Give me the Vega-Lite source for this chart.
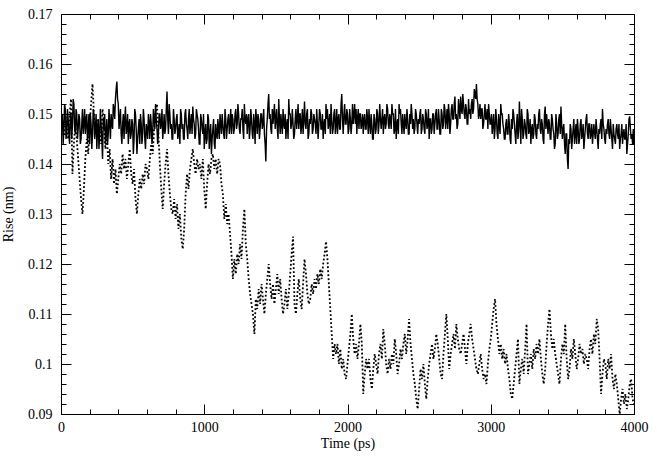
{
  "$schema": "https://vega.github.io/schema/vega-lite/v6.json",
  "autosize": {"type": "none"},
  "width": 573,
  "height": 400,
  "padding": {"left": 61, "top": 14, "right": 23, "bottom": 46},
  "background": "white",
  "config": {
    "view": {"stroke": null},
    "axis": {
      "grid": false,
      "domainColor": "black",
      "domainWidth": 1,
      "tickColor": "black",
      "tickWidth": 1,
      "labelFont": "Liberation Serif",
      "labelFontSize": 14,
      "labelColor": "black",
      "titleFont": "Liberation Serif",
      "titleFontSize": 14,
      "titleFontWeight": "normal",
      "titleColor": "black"
    }
  },
  "data": {"values": [
{"t":0,"a":0.145,"b":0.147},{"t":10,"a":0.150,"b":0.149},{"t":20,"a":0.147,"b":0.146},{"t":30,"a":0.151,"b":0.150},{"t":40,"a":0.146,"b":0.148},{"t":50,"a":0.149,"b":0.145},{"t":60,"a":0.144,"b":0.150},{"t":70,"a":0.150,"b":0.153},{"t":80,"a":0.148,"b":0.138},{"t":90,"a":0.152,"b":0.144},
{"t":100,"a":0.146,"b":0.148},{"t":110,"a":0.150,"b":0.145},{"t":120,"a":0.147,"b":0.141},{"t":130,"a":0.149,"b":0.137},{"t":140,"a":0.145,"b":0.133},{"t":150,"a":0.151,"b":0.130},{"t":160,"a":0.148,"b":0.135},{"t":170,"a":0.146,"b":0.141},{"t":180,"a":0.150,"b":0.145},{"t":190,"a":0.147,"b":0.142},
{"t":200,"a":0.144,"b":0.148},{"t":210,"a":0.148,"b":0.152},{"t":220,"a":0.146,"b":0.156},{"t":230,"a":0.150,"b":0.150},{"t":240,"a":0.147,"b":0.146},{"t":250,"a":0.143,"b":0.149},{"t":260,"a":0.149,"b":0.145},{"t":270,"a":0.146,"b":0.147},{"t":280,"a":0.148,"b":0.144},{"t":290,"a":0.141,"b":0.151},
{"t":300,"a":0.147,"b":0.148},{"t":310,"a":0.144,"b":0.143},{"t":320,"a":0.149,"b":0.146},{"t":330,"a":0.146,"b":0.140},{"t":340,"a":0.148,"b":0.143},{"t":350,"a":0.150,"b":0.137},{"t":360,"a":0.147,"b":0.141},{"t":370,"a":0.151,"b":0.136},{"t":380,"a":0.153,"b":0.139},{"t":390,"a":0.1565,"b":0.134},
{"t":400,"a":0.152,"b":0.137},{"t":410,"a":0.149,"b":0.140},{"t":420,"a":0.146,"b":0.138},{"t":430,"a":0.148,"b":0.142},{"t":440,"a":0.145,"b":0.139},{"t":450,"a":0.1515,"b":0.141},{"t":460,"a":0.147,"b":0.137},{"t":470,"a":0.144,"b":0.140},{"t":480,"a":0.149,"b":0.143},{"t":490,"a":0.146,"b":0.138},
{"t":500,"a":0.148,"b":0.136},{"t":510,"a":0.145,"b":0.139},{"t":520,"a":0.150,"b":0.133},{"t":530,"a":0.142,"b":0.130},{"t":540,"a":0.147,"b":0.134},{"t":550,"a":0.144,"b":0.137},{"t":560,"a":0.148,"b":0.135},{"t":570,"a":0.146,"b":0.138},{"t":580,"a":0.149,"b":0.136},{"t":590,"a":0.143,"b":0.140},
{"t":600,"a":0.147,"b":0.139},{"t":610,"a":0.150,"b":0.137},{"t":620,"a":0.145,"b":0.141},{"t":630,"a":0.148,"b":0.144},{"t":640,"a":0.146,"b":0.142},{"t":650,"a":0.149,"b":0.147},{"t":660,"a":0.152,"b":0.150},{"t":670,"a":0.147,"b":0.152},{"t":680,"a":0.146,"b":0.146},{"t":690,"a":0.150,"b":0.140},
{"t":700,"a":0.148,"b":0.135},{"t":710,"a":0.145,"b":0.131},{"t":720,"a":0.150,"b":0.136},{"t":730,"a":0.147,"b":0.140},{"t":740,"a":0.1545,"b":0.143},{"t":750,"a":0.146,"b":0.138},{"t":760,"a":0.150,"b":0.134},{"t":770,"a":0.148,"b":0.131},{"t":780,"a":0.145,"b":0.130},{"t":790,"a":0.149,"b":0.133},
{"t":800,"a":0.147,"b":0.129},{"t":810,"a":0.150,"b":0.132},{"t":820,"a":0.146,"b":0.127},{"t":830,"a":0.144,"b":0.130},{"t":840,"a":0.150,"b":0.125},{"t":850,"a":0.148,"b":0.123},{"t":860,"a":0.145,"b":0.127},{"t":870,"a":0.151,"b":0.134},{"t":880,"a":0.147,"b":0.138},{"t":890,"a":0.149,"b":0.135},
{"t":900,"a":0.146,"b":0.139},{"t":910,"a":0.150,"b":0.141},{"t":920,"a":0.1515,"b":0.143},{"t":930,"a":0.148,"b":0.140},{"t":940,"a":0.146,"b":0.138},{"t":950,"a":0.150,"b":0.141},{"t":960,"a":0.147,"b":0.139},{"t":970,"a":0.144,"b":0.140},{"t":980,"a":0.149,"b":0.137},{"t":990,"a":0.146,"b":0.141},
{"t":1000,"a":0.143,"b":0.135},{"t":1010,"a":0.148,"b":0.131},{"t":1020,"a":0.145,"b":0.136},{"t":1030,"a":0.149,"b":0.140},{"t":1040,"a":0.146,"b":0.138},{"t":1050,"a":0.142,"b":0.141},{"t":1060,"a":0.147,"b":0.142},{"t":1070,"a":0.144,"b":0.139},{"t":1080,"a":0.148,"b":0.141},{"t":1090,"a":0.145,"b":0.138},
{"t":1100,"a":0.147,"b":0.141},{"t":1110,"a":0.150,"b":0.140},{"t":1120,"a":0.146,"b":0.136},{"t":1130,"a":0.148,"b":0.134},{"t":1140,"a":0.145,"b":0.129},{"t":1150,"a":0.149,"b":0.132},{"t":1160,"a":0.147,"b":0.128},{"t":1170,"a":0.150,"b":0.130},{"t":1180,"a":0.148,"b":0.126},{"t":1190,"a":0.146,"b":0.122},
{"t":1200,"a":0.149,"b":0.117},{"t":1210,"a":0.147,"b":0.121},{"t":1220,"a":0.151,"b":0.118},{"t":1230,"a":0.148,"b":0.122},{"t":1240,"a":0.150,"b":0.120},{"t":1250,"a":0.146,"b":0.124},{"t":1260,"a":0.149,"b":0.121},{"t":1270,"a":0.147,"b":0.127},{"t":1280,"a":0.152,"b":0.131},{"t":1290,"a":0.148,"b":0.124},
{"t":1300,"a":0.146,"b":0.121},{"t":1310,"a":0.150,"b":0.117},{"t":1320,"a":0.147,"b":0.114},{"t":1330,"a":0.149,"b":0.112},{"t":1340,"a":0.145,"b":0.110},{"t":1350,"a":0.148,"b":0.106},{"t":1360,"a":0.151,"b":0.113},{"t":1370,"a":0.146,"b":0.111},{"t":1380,"a":0.149,"b":0.115},{"t":1390,"a":0.147,"b":0.112},
{"t":1400,"a":0.150,"b":0.116},{"t":1410,"a":0.148,"b":0.113},{"t":1420,"a":0.146,"b":0.110},{"t":1430,"a":0.1405,"b":0.114},{"t":1440,"a":0.149,"b":0.117},{"t":1450,"a":0.154,"b":0.120},{"t":1460,"a":0.150,"b":0.116},{"t":1470,"a":0.146,"b":0.113},{"t":1480,"a":0.148,"b":0.116},{"t":1490,"a":0.152,"b":0.112},
{"t":1500,"a":0.149,"b":0.115},{"t":1510,"a":0.147,"b":0.118},{"t":1520,"a":0.153,"b":0.114},{"t":1530,"a":0.146,"b":0.117},{"t":1540,"a":0.148,"b":0.113},{"t":1550,"a":0.151,"b":0.110},{"t":1560,"a":0.147,"b":0.112},{"t":1570,"a":0.145,"b":0.115},{"t":1580,"a":0.149,"b":0.111},{"t":1590,"a":0.153,"b":0.114},
{"t":1600,"a":0.150,"b":0.118},{"t":1610,"a":0.148,"b":0.122},{"t":1620,"a":0.148,"b":0.1255},{"t":1630,"a":0.146,"b":0.112},{"t":1640,"a":0.151,"b":0.110},{"t":1650,"a":0.149,"b":0.114},{"t":1660,"a":0.147,"b":0.117},{"t":1670,"a":0.150,"b":0.113},{"t":1680,"a":0.148,"b":0.111},{"t":1690,"a":0.146,"b":0.116},
{"t":1700,"a":0.1525,"b":0.121},{"t":1710,"a":0.147,"b":0.118},{"t":1720,"a":0.151,"b":0.114},{"t":1730,"a":0.146,"b":0.112},{"t":1740,"a":0.148,"b":0.113},{"t":1750,"a":0.150,"b":0.116},{"t":1760,"a":0.147,"b":0.114},{"t":1770,"a":0.149,"b":0.117},{"t":1780,"a":0.146,"b":0.115},{"t":1790,"a":0.148,"b":0.118},
{"t":1800,"a":0.148,"b":0.116},{"t":1810,"a":0.150,"b":0.119},{"t":1820,"a":0.147,"b":0.117},{"t":1830,"a":0.145,"b":0.120},{"t":1840,"a":0.149,"b":0.122},{"t":1850,"a":0.152,"b":0.1245},{"t":1860,"a":0.151,"b":0.121},{"t":1870,"a":0.148,"b":0.116},{"t":1880,"a":0.146,"b":0.111},{"t":1890,"a":0.149,"b":0.106},
{"t":1900,"a":0.147,"b":0.101},{"t":1910,"a":0.151,"b":0.104},{"t":1920,"a":0.148,"b":0.102},{"t":1930,"a":0.146,"b":0.104},{"t":1940,"a":0.150,"b":0.100},{"t":1950,"a":0.147,"b":0.103},{"t":1960,"a":0.154,"b":0.099},{"t":1970,"a":0.146,"b":0.101},{"t":1980,"a":0.152,"b":0.098},{"t":1990,"a":0.148,"b":0.097},
{"t":2000,"a":0.150,"b":0.100},{"t":2010,"a":0.147,"b":0.103},{"t":2020,"a":0.149,"b":0.106},{"t":2030,"a":0.148,"b":0.110},{"t":2040,"a":0.148,"b":0.105},{"t":2050,"a":0.152,"b":0.102},{"t":2060,"a":0.151,"b":0.104},{"t":2070,"a":0.149,"b":0.101},{"t":2080,"a":0.147,"b":0.104},{"t":2090,"a":0.150,"b":0.108},
{"t":2100,"a":0.148,"b":0.104},{"t":2110,"a":0.146,"b":0.094},{"t":2120,"a":0.150,"b":0.098},{"t":2130,"a":0.147,"b":0.101},{"t":2140,"a":0.149,"b":0.099},{"t":2150,"a":0.151,"b":0.101},{"t":2160,"a":0.146,"b":0.097},{"t":2170,"a":0.148,"b":0.095},{"t":2180,"a":0.145,"b":0.099},{"t":2190,"a":0.149,"b":0.102},
{"t":2200,"a":0.147,"b":0.100},{"t":2210,"a":0.150,"b":0.098},{"t":2220,"a":0.148,"b":0.102},{"t":2230,"a":0.149,"b":0.104},{"t":2240,"a":0.149,"b":0.101},{"t":2250,"a":0.146,"b":0.107},{"t":2260,"a":0.150,"b":0.104},{"t":2270,"a":0.148,"b":0.100},{"t":2280,"a":0.151,"b":0.098},{"t":2290,"a":0.147,"b":0.101},
{"t":2300,"a":0.149,"b":0.099},{"t":2310,"a":0.152,"b":0.102},{"t":2320,"a":0.150,"b":0.100},{"t":2330,"a":0.147,"b":0.105},{"t":2340,"a":0.145,"b":0.102},{"t":2350,"a":0.149,"b":0.098},{"t":2360,"a":0.152,"b":0.100},{"t":2370,"a":0.151,"b":0.103},{"t":2380,"a":0.146,"b":0.101},{"t":2390,"a":0.148,"b":0.104},
{"t":2400,"a":0.150,"b":0.106},{"t":2410,"a":0.147,"b":0.102},{"t":2420,"a":0.149,"b":0.105},{"t":2430,"a":0.146,"b":0.109},{"t":2440,"a":0.148,"b":0.104},{"t":2450,"a":0.150,"b":0.101},{"t":2460,"a":0.149,"b":0.098},{"t":2470,"a":0.147,"b":0.096},{"t":2480,"a":0.150,"b":0.093},{"t":2490,"a":0.146,"b":0.091},
{"t":2500,"a":0.148,"b":0.095},{"t":2510,"a":0.151,"b":0.099},{"t":2520,"a":0.147,"b":0.097},{"t":2530,"a":0.149,"b":0.100},{"t":2540,"a":0.146,"b":0.096},{"t":2550,"a":0.150,"b":0.093},{"t":2560,"a":0.148,"b":0.097},{"t":2570,"a":0.145,"b":0.100},{"t":2580,"a":0.149,"b":0.102},{"t":2590,"a":0.147,"b":0.104},
{"t":2600,"a":0.150,"b":0.101},{"t":2610,"a":0.148,"b":0.103},{"t":2620,"a":0.151,"b":0.106},{"t":2630,"a":0.147,"b":0.104},{"t":2640,"a":0.149,"b":0.101},{"t":2650,"a":0.146,"b":0.098},{"t":2660,"a":0.150,"b":0.097},{"t":2670,"a":0.148,"b":0.102},{"t":2680,"a":0.151,"b":0.106},{"t":2690,"a":0.149,"b":0.110},
{"t":2700,"a":0.147,"b":0.105},{"t":2710,"a":0.150,"b":0.099},{"t":2720,"a":0.148,"b":0.102},{"t":2730,"a":0.152,"b":0.104},{"t":2740,"a":0.149,"b":0.106},{"t":2750,"a":0.1535,"b":0.103},{"t":2760,"a":0.150,"b":0.108},{"t":2770,"a":0.148,"b":0.105},{"t":2780,"a":0.151,"b":0.103},{"t":2790,"a":0.1535,"b":0.102},
{"t":2800,"a":0.150,"b":0.104},{"t":2810,"a":0.152,"b":0.106},{"t":2820,"a":0.149,"b":0.103},{"t":2830,"a":0.151,"b":0.100},{"t":2840,"a":0.148,"b":0.104},{"t":2850,"a":0.150,"b":0.106},{"t":2860,"a":0.149,"b":0.108},{"t":2870,"a":0.153,"b":0.105},{"t":2880,"a":0.151,"b":0.103},{"t":2890,"a":0.154,"b":0.101},
{"t":2900,"a":0.156,"b":0.099},{"t":2910,"a":0.152,"b":0.098},{"t":2920,"a":0.150,"b":0.100},{"t":2930,"a":0.149,"b":0.102},{"t":2940,"a":0.151,"b":0.099},{"t":2950,"a":0.148,"b":0.097},{"t":2960,"a":0.152,"b":0.098},{"t":2970,"a":0.149,"b":0.096},{"t":2980,"a":0.147,"b":0.100},{"t":2990,"a":0.150,"b":0.103},
{"t":3000,"a":0.148,"b":0.105},{"t":3010,"a":0.146,"b":0.108},{"t":3020,"a":0.150,"b":0.111},{"t":3030,"a":0.147,"b":0.113},{"t":3040,"a":0.149,"b":0.108},{"t":3050,"a":0.145,"b":0.105},{"t":3060,"a":0.148,"b":0.102},{"t":3070,"a":0.152,"b":0.104},{"t":3080,"a":0.150,"b":0.101},{"t":3090,"a":0.147,"b":0.103},
{"t":3100,"a":0.145,"b":0.100},{"t":3110,"a":0.149,"b":0.102},{"t":3120,"a":0.146,"b":0.099},{"t":3130,"a":0.148,"b":0.097},{"t":3140,"a":0.144,"b":0.094},{"t":3150,"a":0.147,"b":0.093},{"t":3160,"a":0.150,"b":0.096},{"t":3170,"a":0.146,"b":0.099},{"t":3180,"a":0.148,"b":0.102},{"t":3190,"a":0.145,"b":0.105},
{"t":3200,"a":0.1525,"b":0.096},{"t":3210,"a":0.144,"b":0.099},{"t":3220,"a":0.149,"b":0.101},{"t":3230,"a":0.146,"b":0.098},{"t":3240,"a":0.148,"b":0.103},{"t":3250,"a":0.145,"b":0.108},{"t":3260,"a":0.150,"b":0.098},{"t":3270,"a":0.147,"b":0.100},{"t":3280,"a":0.144,"b":0.102},{"t":3290,"a":0.148,"b":0.099},
{"t":3300,"a":0.146,"b":0.103},{"t":3310,"a":0.149,"b":0.101},{"t":3320,"a":0.145,"b":0.104},{"t":3330,"a":0.147,"b":0.102},{"t":3340,"a":0.151,"b":0.105},{"t":3350,"a":0.146,"b":0.101},{"t":3360,"a":0.148,"b":0.098},{"t":3370,"a":0.144,"b":0.096},{"t":3380,"a":0.1515,"b":0.099},{"t":3390,"a":0.150,"b":0.104},
{"t":3400,"a":0.146,"b":0.108},{"t":3410,"a":0.148,"b":0.111},{"t":3420,"a":0.145,"b":0.106},{"t":3430,"a":0.149,"b":0.103},{"t":3440,"a":0.146,"b":0.105},{"t":3450,"a":0.144,"b":0.102},{"t":3460,"a":0.148,"b":0.100},{"t":3470,"a":0.146,"b":0.098},{"t":3480,"a":0.150,"b":0.096},{"t":3490,"a":0.1515,"b":0.101},
{"t":3500,"a":0.145,"b":0.104},{"t":3510,"a":0.148,"b":0.102},{"t":3520,"a":0.142,"b":0.108},{"t":3530,"a":0.146,"b":0.101},{"t":3540,"a":0.139,"b":0.097},{"t":3550,"a":0.144,"b":0.099},{"t":3560,"a":0.147,"b":0.103},{"t":3570,"a":0.145,"b":0.101},{"t":3580,"a":0.149,"b":0.105},{"t":3590,"a":0.146,"b":0.102},
{"t":3600,"a":0.144,"b":0.099},{"t":3610,"a":0.147,"b":0.101},{"t":3620,"a":0.145,"b":0.104},{"t":3630,"a":0.149,"b":0.102},{"t":3640,"a":0.146,"b":0.103},{"t":3650,"a":0.143,"b":0.100},{"t":3660,"a":0.147,"b":0.102},{"t":3670,"a":0.150,"b":0.101},{"t":3680,"a":0.145,"b":0.099},{"t":3690,"a":0.148,"b":0.103},
{"t":3700,"a":0.146,"b":0.105},{"t":3710,"a":0.144,"b":0.102},{"t":3720,"a":0.148,"b":0.106},{"t":3730,"a":0.145,"b":0.104},{"t":3740,"a":0.147,"b":0.109},{"t":3750,"a":0.143,"b":0.107},{"t":3760,"a":0.146,"b":0.101},{"t":3770,"a":0.149,"b":0.094},{"t":3780,"a":0.151,"b":0.098},{"t":3790,"a":0.147,"b":0.101},
{"t":3800,"a":0.144,"b":0.100},{"t":3810,"a":0.146,"b":0.097},{"t":3820,"a":0.149,"b":0.101},{"t":3830,"a":0.145,"b":0.099},{"t":3840,"a":0.147,"b":0.102},{"t":3850,"a":0.143,"b":0.097},{"t":3860,"a":0.146,"b":0.095},{"t":3870,"a":0.144,"b":0.098},{"t":3880,"a":0.148,"b":0.096},{"t":3890,"a":0.145,"b":0.093},
{"t":3900,"a":0.143,"b":0.090},{"t":3910,"a":0.146,"b":0.093},{"t":3920,"a":0.144,"b":0.095},{"t":3930,"a":0.147,"b":0.092},{"t":3940,"a":0.145,"b":0.094},{"t":3950,"a":0.142,"b":0.091},{"t":3960,"a":0.146,"b":0.093},{"t":3970,"a":0.1495,"b":0.096},{"t":3980,"a":0.145,"b":0.097},{"t":3990,"a":0.144,"b":0.093},
{"t":4000,"a":0.144,"b":0.092},
{"t":5,"a":0.149},{"t":15,"a":0.144},{"t":25,"a":0.152},{"t":35,"a":0.145},{"t":45,"a":0.151},{"t":55,"a":0.146},{"t":65,"a":0.150},{"t":75,"a":0.145},{"t":85,"a":0.153},{"t":95,"a":0.147},
{"t":105,"a":0.151},{"t":115,"a":0.145},{"t":125,"a":0.150},{"t":135,"a":0.144},{"t":145,"a":0.148},{"t":155,"a":0.146},{"t":165,"a":0.151},{"t":175,"a":0.149},{"t":185,"a":0.144},{"t":195,"a":0.150},
{"t":205,"a":0.150},{"t":215,"a":0.143},{"t":225,"a":0.151},{"t":235,"a":0.145},{"t":245,"a":0.150},{"t":255,"a":0.147},{"t":265,"a":0.143},{"t":275,"a":0.151},{"t":285,"a":0.145},{"t":295,"a":0.149},
{"t":305,"a":0.150},{"t":315,"a":0.146},{"t":325,"a":0.144},{"t":335,"a":0.151},{"t":345,"a":0.145},{"t":355,"a":0.148},{"t":365,"a":0.152},{"t":375,"a":0.149},{"t":385,"a":0.155},{"t":395,"a":0.153},
{"t":405,"a":0.147},{"t":415,"a":0.151},{"t":425,"a":0.144},{"t":435,"a":0.150},{"t":445,"a":0.149},{"t":455,"a":0.146},{"t":465,"a":0.150},{"t":475,"a":0.148},{"t":485,"a":0.145},{"t":495,"a":0.149},
{"t":505,"a":0.142},{"t":515,"a":0.151},{"t":525,"a":0.147},{"t":535,"a":0.145},{"t":545,"a":0.149},{"t":555,"a":0.150},{"t":565,"a":0.144},{"t":575,"a":0.151},{"t":585,"a":0.145},{"t":595,"a":0.148},
{"t":605,"a":0.145},{"t":615,"a":0.148},{"t":625,"a":0.150},{"t":635,"a":0.144},{"t":645,"a":0.151},{"t":655,"a":0.147},{"t":665,"a":0.149},{"t":675,"a":0.144},{"t":685,"a":0.150},{"t":695,"a":0.147},
{"t":705,"a":0.151},{"t":715,"a":0.147},{"t":725,"a":0.146},{"t":735,"a":0.151},{"t":745,"a":0.149},{"t":755,"a":0.152},{"t":765,"a":0.147},{"t":775,"a":0.145},{"t":785,"a":0.151},{"t":795,"a":0.146},
{"t":805,"a":0.149},{"t":815,"a":0.145},{"t":825,"a":0.148},{"t":835,"a":0.151},{"t":845,"a":0.147},{"t":855,"a":0.145},{"t":865,"a":0.150},{"t":875,"a":0.148},{"t":885,"a":0.145},{"t":895,"a":0.151},
{"t":905,"a":0.148},{"t":915,"a":0.146},{"t":925,"a":0.149},{"t":935,"a":0.145},{"t":945,"a":0.151},{"t":955,"a":0.149},{"t":965,"a":0.144},{"t":975,"a":0.150},{"t":985,"a":0.147},{"t":995,"a":0.150},
{"t":1005,"a":0.146},{"t":1015,"a":0.144},{"t":1025,"a":0.150},{"t":1035,"a":0.143},{"t":1045,"a":0.148},{"t":1055,"a":0.145},{"t":1065,"a":0.149},{"t":1075,"a":0.143},{"t":1085,"a":0.146},{"t":1095,"a":0.149},
{"t":1105,"a":0.145},{"t":1115,"a":0.148},{"t":1125,"a":0.150},{"t":1135,"a":0.146},{"t":1145,"a":0.151},{"t":1155,"a":0.145},{"t":1165,"a":0.149},{"t":1175,"a":0.146},{"t":1185,"a":0.151},{"t":1195,"a":0.150},
{"t":1205,"a":0.146},{"t":1215,"a":0.150},{"t":1225,"a":0.147},{"t":1235,"a":0.152},{"t":1245,"a":0.147},{"t":1255,"a":0.149},{"t":1265,"a":0.151},{"t":1275,"a":0.145},{"t":1285,"a":0.149},{"t":1295,"a":0.150},
{"t":1305,"a":0.149},{"t":1315,"a":0.145},{"t":1325,"a":0.151},{"t":1335,"a":0.146},{"t":1345,"a":0.150},{"t":1355,"a":0.144},{"t":1365,"a":0.149},{"t":1375,"a":0.150},{"t":1385,"a":0.145},{"t":1395,"a":0.150},
{"t":1405,"a":0.147},{"t":1415,"a":0.151},{"t":1425,"a":0.144},{"t":1435,"a":0.147},{"t":1445,"a":0.152},{"t":1455,"a":0.149},{"t":1465,"a":0.147},{"t":1475,"a":0.151},{"t":1485,"a":0.150},{"t":1495,"a":0.147},
{"t":1505,"a":0.151},{"t":1515,"a":0.145},{"t":1525,"a":0.149},{"t":1535,"a":0.150},{"t":1545,"a":0.146},{"t":1555,"a":0.148},{"t":1565,"a":0.150},{"t":1575,"a":0.148},{"t":1585,"a":0.145},{"t":1595,"a":0.150},
{"t":1605,"a":0.147},{"t":1615,"a":0.151},{"t":1625,"a":0.145},{"t":1635,"a":0.149},{"t":1645,"a":0.147},{"t":1655,"a":0.152},{"t":1665,"a":0.150},{"t":1675,"a":0.146},{"t":1685,"a":0.151},{"t":1695,"a":0.149},
{"t":1705,"a":0.148},{"t":1715,"a":0.150},{"t":1725,"a":0.145},{"t":1735,"a":0.149},{"t":1745,"a":0.151},{"t":1755,"a":0.146},{"t":1765,"a":0.150},{"t":1775,"a":0.148},{"t":1785,"a":0.151},{"t":1795,"a":0.145},
{"t":1805,"a":0.151},{"t":1815,"a":0.147},{"t":1825,"a":0.150},{"t":1835,"a":0.148},{"t":1845,"a":0.146},{"t":1855,"a":0.149},{"t":1865,"a":0.147},{"t":1875,"a":0.150},{"t":1885,"a":0.152},{"t":1895,"a":0.146},
{"t":1905,"a":0.150},{"t":1915,"a":0.146},{"t":1925,"a":0.151},{"t":1935,"a":0.149},{"t":1945,"a":0.147},{"t":1955,"a":0.152},{"t":1965,"a":0.149},{"t":1975,"a":0.150},{"t":1985,"a":0.148},{"t":1995,"a":0.151},
{"t":2005,"a":0.146},{"t":2015,"a":0.151},{"t":2025,"a":0.146},{"t":2035,"a":0.152},{"t":2045,"a":0.150},{"t":2055,"a":0.148},{"t":2065,"a":0.146},{"t":2075,"a":0.151},{"t":2085,"a":0.150},{"t":2095,"a":0.147},
{"t":2105,"a":0.150},{"t":2115,"a":0.149},{"t":2125,"a":0.147},{"t":2135,"a":0.151},{"t":2145,"a":0.146},{"t":2155,"a":0.148},{"t":2165,"a":0.150},{"t":2175,"a":0.145},{"t":2185,"a":0.150},{"t":2195,"a":0.146},
{"t":2205,"a":0.151},{"t":2215,"a":0.146},{"t":2225,"a":0.152},{"t":2235,"a":0.147},{"t":2245,"a":0.151},{"t":2255,"a":0.149},{"t":2265,"a":0.147},{"t":2275,"a":0.152},{"t":2285,"a":0.148},{"t":2295,"a":0.150},
{"t":2305,"a":0.147},{"t":2315,"a":0.150},{"t":2325,"a":0.146},{"t":2335,"a":0.151},{"t":2345,"a":0.148},{"t":2355,"a":0.146},{"t":2365,"a":0.150},{"t":2375,"a":0.148},{"t":2385,"a":0.150},{"t":2395,"a":0.146},
{"t":2405,"a":0.148},{"t":2415,"a":0.151},{"t":2425,"a":0.146},{"t":2435,"a":0.150},{"t":2445,"a":0.152},{"t":2455,"a":0.147},{"t":2465,"a":0.146},{"t":2475,"a":0.151},{"t":2485,"a":0.148},{"t":2495,"a":0.149},
{"t":2505,"a":0.150},{"t":2515,"a":0.146},{"t":2525,"a":0.150},{"t":2535,"a":0.147},{"t":2545,"a":0.151},{"t":2555,"a":0.147},{"t":2565,"a":0.151},{"t":2575,"a":0.149},{"t":2585,"a":0.146},{"t":2595,"a":0.150},
{"t":2605,"a":0.146},{"t":2615,"a":0.150},{"t":2625,"a":0.147},{"t":2635,"a":0.151},{"t":2645,"a":0.146},{"t":2655,"a":0.151},{"t":2665,"a":0.147},{"t":2675,"a":0.152},{"t":2685,"a":0.147},{"t":2695,"a":0.151},
{"t":2705,"a":0.152},{"t":2715,"a":0.146},{"t":2725,"a":0.151},{"t":2735,"a":0.149},{"t":2745,"a":0.152},{"t":2755,"a":0.149},{"t":2765,"a":0.147},{"t":2775,"a":0.153},{"t":2785,"a":0.149},{"t":2795,"a":0.151},
{"t":2805,"a":0.154},{"t":2815,"a":0.150},{"t":2825,"a":0.152},{"t":2835,"a":0.148},{"t":2845,"a":0.153},{"t":2855,"a":0.151},{"t":2865,"a":0.152},{"t":2875,"a":0.150},{"t":2885,"a":0.155},{"t":2895,"a":0.153},
{"t":2905,"a":0.153},{"t":2915,"a":0.149},{"t":2925,"a":0.152},{"t":2935,"a":0.151},{"t":2945,"a":0.147},{"t":2955,"a":0.150},{"t":2965,"a":0.149},{"t":2975,"a":0.151},{"t":2985,"a":0.152},{"t":2995,"a":0.148},
{"t":3005,"a":0.150},{"t":3015,"a":0.148},{"t":3025,"a":0.145},{"t":3035,"a":0.151},{"t":3045,"a":0.146},{"t":3055,"a":0.150},{"t":3065,"a":0.146},{"t":3075,"a":0.150},{"t":3085,"a":0.148},{"t":3095,"a":0.145},
{"t":3105,"a":0.148},{"t":3115,"a":0.146},{"t":3125,"a":0.150},{"t":3135,"a":0.145},{"t":3145,"a":0.149},{"t":3155,"a":0.151},{"t":3165,"a":0.148},{"t":3175,"a":0.144},{"t":3185,"a":0.150},{"t":3195,"a":0.147},
{"t":3205,"a":0.148},{"t":3215,"a":0.151},{"t":3225,"a":0.145},{"t":3235,"a":0.149},{"t":3245,"a":0.146},{"t":3255,"a":0.151},{"t":3265,"a":0.146},{"t":3275,"a":0.149},{"t":3285,"a":0.147},{"t":3295,"a":0.145},
{"t":3305,"a":0.150},{"t":3315,"a":0.146},{"t":3325,"a":0.148},{"t":3335,"a":0.150},{"t":3345,"a":0.147},{"t":3355,"a":0.149},{"t":3365,"a":0.145},{"t":3375,"a":0.150},{"t":3385,"a":0.147},{"t":3395,"a":0.148},
{"t":3405,"a":0.149},{"t":3415,"a":0.145},{"t":3425,"a":0.150},{"t":3435,"a":0.147},{"t":3445,"a":0.143},{"t":3455,"a":0.150},{"t":3465,"a":0.145},{"t":3475,"a":0.149},{"t":3485,"a":0.146},{"t":3495,"a":0.148},
{"t":3505,"a":0.147},{"t":3515,"a":0.144},{"t":3525,"a":0.146},{"t":3535,"a":0.141},{"t":3545,"a":0.145},{"t":3555,"a":0.148},{"t":3565,"a":0.143},{"t":3575,"a":0.147},{"t":3585,"a":0.144},{"t":3595,"a":0.148},
{"t":3605,"a":0.149},{"t":3615,"a":0.144},{"t":3625,"a":0.148},{"t":3635,"a":0.145},{"t":3645,"a":0.148},{"t":3655,"a":0.145},{"t":3665,"a":0.149},{"t":3675,"a":0.146},{"t":3685,"a":0.148},{"t":3695,"a":0.145},
{"t":3705,"a":0.148},{"t":3715,"a":0.146},{"t":3725,"a":0.146},{"t":3735,"a":0.149},{"t":3745,"a":0.145},{"t":3755,"a":0.147},{"t":3765,"a":0.148},{"t":3775,"a":0.145},{"t":3785,"a":0.148},{"t":3795,"a":0.145},
{"t":3805,"a":0.147},{"t":3815,"a":0.148},{"t":3825,"a":0.146},{"t":3835,"a":0.149},{"t":3845,"a":0.145},{"t":3855,"a":0.148},{"t":3865,"a":0.145},{"t":3875,"a":0.147},{"t":3885,"a":0.146},{"t":3895,"a":0.148},
{"t":3905,"a":0.145},{"t":3915,"a":0.148},{"t":3925,"a":0.146},{"t":3935,"a":0.145},{"t":3945,"a":0.148},{"t":3955,"a":0.144},{"t":3965,"a":0.149},{"t":3975,"a":0.147},{"t":3985,"a":0.146},{"t":3995,"a":0.147}
  ]},
  "layer": [
    {
      "mark": {"type": "line", "color": "black", "strokeWidth": 1.4, "clip": true},
      "encoding": {
        "x": {"field": "t", "type": "quantitative", "scale": {"domain": [0, 4000], "nice": false, "zero": false},
          "axis": {"orient": "bottom", "title": "Time (ps)", "titlePadding": -3, "format": "d", "labelPadding": 16,
            "values": [0,200,400,600,800,1000,1200,1400,1600,1800,2000,2200,2400,2600,2800,3000,3200,3400,3600,3800,4000],
            "labelExpr": "datum.value % 1000 === 0 ? datum.label : ''",
            "tickSize": {"condition": {"test": "datum.value % 1000 === 0", "value": -10}, "value": -5},
            "labelFlush": false, "labelOverlap": false}},
        "y": {"field": "a", "type": "quantitative", "scale": {"domain": [0.09, 0.17], "nice": false, "zero": false},
          "axis": {"orient": "left", "title": "Rise (nm)", "titlePadding": 12, "format": ".2~f", "labelPadding": 19,
            "values": [0.09,0.092,0.094,0.096,0.098,0.1,0.102,0.104,0.106,0.108,0.11,0.112,0.114,0.116,0.118,0.12,0.122,0.124,0.126,0.128,0.13,0.132,0.134,0.136,0.138,0.14,0.142,0.144,0.146,0.148,0.15,0.152,0.154,0.156,0.158,0.16,0.162,0.164,0.166,0.168,0.17],
            "labelExpr": "abs(datum.value*100 - round(datum.value*100)) < 0.001 ? datum.label : ''",
            "tickSize": {"condition": {"test": "abs(datum.value*100 - round(datum.value*100)) < 0.001", "value": -10}, "value": -5},
            "labelFlush": false, "labelOverlap": false}}
      }
    },
    {
      "transform": [{"filter": "isValid(datum.b)"}],
      "mark": {"type": "line", "color": "black", "strokeWidth": 1.8, "strokeDash": [1.8, 2.2], "clip": true},
      "encoding": {
        "x": {"field": "t", "type": "quantitative", "scale": {"domain": [0, 4000], "nice": false, "zero": false},
          "axis": {"orient": "top", "title": null, "labels": false,
            "values": [0,200,400,600,800,1000,1200,1400,1600,1800,2000,2200,2400,2600,2800,3000,3200,3400,3600,3800,4000],
            "tickSize": {"condition": {"test": "datum.value % 1000 === 0", "value": -10}, "value": -5}}},
        "y": {"field": "b", "type": "quantitative", "scale": {"domain": [0.09, 0.17], "nice": false, "zero": false},
          "axis": {"orient": "right", "title": null, "labels": false,
            "values": [0.09,0.092,0.094,0.096,0.098,0.1,0.102,0.104,0.106,0.108,0.11,0.112,0.114,0.116,0.118,0.12,0.122,0.124,0.126,0.128,0.13,0.132,0.134,0.136,0.138,0.14,0.142,0.144,0.146,0.148,0.15,0.152,0.154,0.156,0.158,0.16,0.162,0.164,0.166,0.168,0.17],
            "tickSize": {"condition": {"test": "abs(datum.value*100 - round(datum.value*100)) < 0.001", "value": -10}, "value": -5}}}
      }
    }
  ],
  "resolve": {"axis": {"x": "independent", "y": "independent"}}
}
